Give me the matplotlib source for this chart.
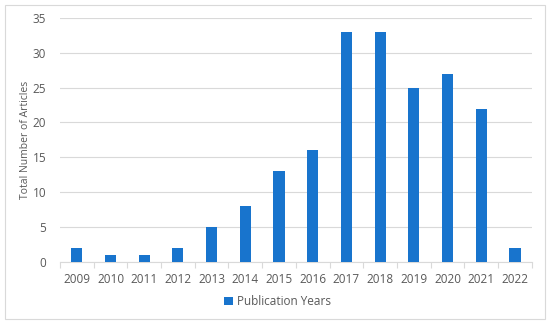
import matplotlib
matplotlib.use("Agg")
import matplotlib.pyplot as plt
from matplotlib.patches import Rectangle

# ── data ─────────────────────────────────────────
years = ['2009', '2010', '2011', '2012', '2013', '2014', '2015',
         '2016', '2017', '2018', '2019', '2020', '2021', '2022']
articles = [2, 1, 1, 2, 5, 8, 13, 16, 33, 33, 25, 27, 22, 2]
# ─────────────────────────────────────────────────

plt.rcParams['font.family'] = ['Open Sans', 'DejaVu Sans']
txt = '#595959'

fig = plt.figure(figsize=(5.5, 3.25), dpi=100)
fig.patches.append(Rectangle((5 / 550, 6 / 325), 540 / 550, 314 / 325,
                             transform=fig.transFigure, fill=False,
                             edgecolor='#d9d9d9', linewidth=0.8))
ax = fig.add_axes([0.109, 0.194, 0.858, 0.751])

x = range(len(years))
ax.bar(x, articles, width=0.33, color='#1874cd', label='Publication Years', zorder=3)

ax.set_xlim(-0.5, len(years) - 0.5)
ax.set_ylim(0, 35)
ax.set_yticks(range(0, 36, 5))
ax.set_xticks(list(x))
ax.set_xticklabels(years)
ax.set_xticks([i - 0.5 for i in range(len(years) + 1)], minor=True)
ax.tick_params(axis='x', which='major', length=0, labelsize=8.5, colors=txt, pad=8)
ax.tick_params(axis='x', which='minor', length=4, color='#d9d9d9', width=0.8)
ax.tick_params(axis='y', length=0, labelsize=8.5, colors=txt, pad=10)
ax.grid(axis='y', color='#d9d9d9', linewidth=0.8, zorder=0)
for s in ['top', 'right', 'left']:
    ax.spines[s].set_visible(False)
ax.spines['bottom'].set_color('#d9d9d9')
ax.set_ylabel('Total Number of Articles', fontsize=7.5, color=txt)
ax.yaxis.set_label_coords(-0.062, 0.5)

leg = fig.legend(loc='center', bbox_to_anchor=(0.505, 0.071), frameon=False,
                 fontsize=8.5, handlelength=0.7, handleheight=0.7, handletextpad=0.4)
for t in leg.get_texts():
    t.set_color(txt)

fig.savefig('out.png', dpi=100)
